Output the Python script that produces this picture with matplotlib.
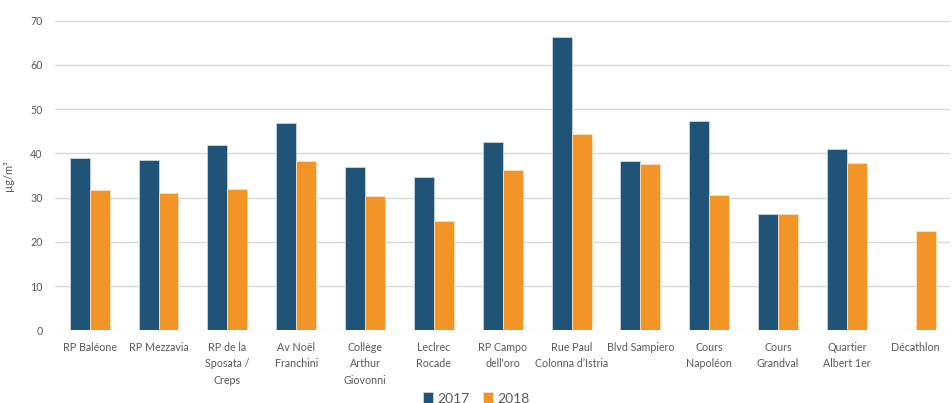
import numpy as np
import matplotlib
matplotlib.use("Agg")
import matplotlib.pyplot as plt

plt.rcParams['font.family'] = ['Lato', 'DejaVu Sans']

# sites de mesure et moyennes annuelles (µg/m³)
sites = ["RP Baléone", "RP Mezzavia", "RP de la\nSposata /\nCreps", "Av Noël\nFranchini",
         "Collège\nArthur\nGiovonni", "Leclrec\nRocade", "RP Campo\ndell'oro",
         "Rue Paul\nColonna d’Istria", "Blvd Sampiero", "Cours\nNapoléon",
         "Cours\nGrandval", "Quartier\nAlbert 1er", "Décathlon"]
val_2017 = [39.0, 38.6, 41.8, 46.8, 36.9, 34.7, 42.6, 66.2, 38.3, 47.4, 26.4, 41.1, np.nan]
val_2018 = [31.8, 31.0, 31.9, 38.3, 30.4, 24.7, 36.2, 44.4, 37.6, 30.7, 26.3, 37.9, 22.5]
annees = ["2017", "2018"]

bleu = "#1F5478"
orange = "#F39426"
gris = "#595959"

fig = plt.figure(figsize=(9.53, 4.03), dpi=100)
ax = fig.add_axes([0.058, 0.180, 0.939, 0.769])

x = np.arange(len(sites))
w = 0.29
ax.bar(x - w/2, val_2017, w, color=bleu, edgecolor="#C9D6E0", linewidth=0.6, label=annees[0], zorder=3)
ax.bar(x + w/2, val_2018, w, color=orange, edgecolor="#FBE0C0", linewidth=0.6, label=annees[1], zorder=3)

ax.set_xlim(-0.5, len(sites) - 0.5)
ax.set_ylim(0, 70)
ax.set_yticks(range(0, 71, 10))
ax.grid(axis="y", color="#D9D9D9", linewidth=1.0, zorder=0)
for s in ax.spines.values():
    s.set_visible(False)
ax.tick_params(axis="both", length=0, colors=gris, labelsize=7.7)
ax.tick_params(axis="y", pad=9)
ax.tick_params(axis="x", pad=8)
ax.set_xticks(x)
ax.set_xticklabels(sites, linespacing=1.65, color=gris)
ax.set_ylabel("µg/m³", color=gris, fontsize=8, labelpad=12)

fig.legend(loc="lower center", bbox_to_anchor=(0.5, -0.035), ncol=2, frameon=False,
           fontsize=10, handlelength=0.7, handleheight=0.9, handletextpad=0.3,
           columnspacing=1.0, labelcolor=gris)

fig.savefig("out.png", dpi=100)
